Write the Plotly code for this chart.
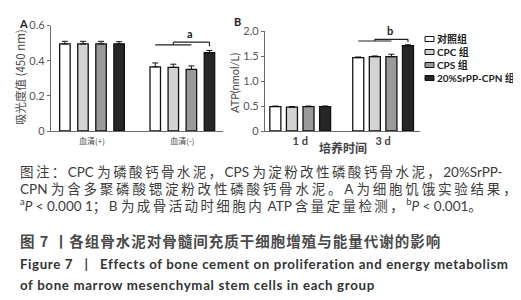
import re
import plotly.graph_objects as go

W, H = 521, 300

# ---------------- data ----------------
groups_A = ["血清(+)", "血清(-)"]
groups_B = ["1 d", "3 d"]
series_names = ["对照组", "CPC 组", "CPS 组", "20%SrPP-CPN 组"]
series_colors = ["#ffffff", "#d3d3d3", "#9a9a9a", "#262626"]

ctrl_A = [0.495, 0.365]
cpc_A = [0.495, 0.362]
cps_A = [0.495, 0.350]
srpp_A = [0.495, 0.445]
ctrl_A_err = [0.015, 0.022]
cpc_A_err = [0.015, 0.018]
cps_A_err = [0.015, 0.020]
srpp_A_err = [0.013, 0.013]

ctrl_B = [0.49, 1.47]
cpc_B = [0.48, 1.49]
cps_B = [0.49, 1.49]
srpp_B = [0.49, 1.71]
ctrl_B_err = [0.01, 0.015]
cpc_B_err = [0.01, 0.015]
cps_B_err = [0.01, 0.05]
srpp_B_err = [0.012, 0.02]

A_vals = [ctrl_A, cpc_A, cps_A, srpp_A]
A_errs = [ctrl_A_err, cpc_A_err, cps_A_err, srpp_A_err]
B_vals = [ctrl_B, cpc_B, cps_B, srpp_B]
B_errs = [ctrl_B_err, cpc_B_err, cps_B_err, srpp_B_err]

yticks_A = [0, 0.2, 0.4, 0.6]
yticktext_A = ["0", "0.2", "0.4", "0.6"]
yticks_B = [0, 0.5, 1.0, 1.5, 2.0]
yticktext_B = ["0", "0.5", "1.0", "1.5", "2.0"]


def px(x):
    return x / W


def py(y):
    return 1 - y / H


LAT = "Lato, 'Noto Sans CJK SC', sans-serif"
CJK = "'Noto Sans CJK SC', Lato, sans-serif"


def spaced(s, ls):
    """wrap runs of CJK characters in a letter-spaced span"""
    return re.sub(r"([\u3000-\u9fff\uff00-\uffef]+)",
                  lambda m: f'<span style="letter-spacing:{ls}px">{m.group(1)}</span>', s)


def note(text, x, y, font, xanchor="center", yanchor="middle", **kw):
    return dict(text=text, xref="paper", yref="paper", x=px(x), y=py(y),
                xanchor=xanchor, yanchor=yanchor, showarrow=False, font=font, **kw)


fig = go.Figure()

slot = 0.2
wA, wB = 0.116, 0.133
for i in range(4):
    fig.add_trace(go.Bar(
        x=groups_A, y=A_vals[i], name=series_names[i], xaxis="x", yaxis="y",
        offset=(i - 1.5) * slot - wA / 2, width=wA,
        marker=dict(color=series_colors[i], line=dict(color="#111", width=1.3)),
        error_y=dict(type="data", array=A_errs[i], arrayminus=[0, 0], symmetric=False,
                     color="#111", thickness=1, width=3),
        showlegend=False,
    ))
    fig.add_trace(go.Bar(
        x=groups_B, y=B_vals[i], name=series_names[i], xaxis="x2", yaxis="y2",
        offset=(i - 1.5) * slot - wB / 2, width=wB,
        marker=dict(color=series_colors[i], line=dict(color="#111", width=1.3)),
        error_y=dict(type="data", array=B_errs[i], arrayminus=[0, 0], symmetric=False,
                     color="#111", thickness=1, width=3),
        showlegend=False,
    ))

axis_common = dict(showline=True, linecolor="#6a6a6a", linewidth=1.2, showgrid=False,
                   zeroline=False, fixedrange=True, automargin=False)

shapes = []
annotations = []


def bracket(xref, yref, lo0, lo1, up0, up1, ylo, yup, ytick):
    s = []
    ln = dict(color="#222", width=1.2)
    s.append(dict(type="line", xref=xref, yref=yref, x0=lo0, x1=lo1, y0=ylo, y1=ylo, line=ln))
    s.append(dict(type="line", xref=xref, yref=yref, x0=up0, x1=up1, y0=yup, y1=yup, line=ln))
    s.append(dict(type="line", xref=xref, yref=yref, x0=up0, x1=up0, y0=ylo, y1=yup, line=ln))
    s.append(dict(type="line", xref=xref, yref=yref, x0=up1, x1=up1, y0=yup, y1=ytick, line=ln))
    return s


shapes += bracket("x", "y", 1 - 0.3, 1 + 0.1, 1 - 0.1, 1 + 0.3, 0.490, 0.505, 0.482)
shapes += bracket("x2", "y2", 1 - 0.3, 1 + 0.1, 1 - 0.1, 1 + 0.3, 1.805, 1.84, 1.785)
annotations.append(dict(text="a", xref="x", yref="y", x=1.08, y=0.505, xanchor="center", yanchor="bottom",
                        showarrow=False, font=dict(family=LAT, size=11, color="#222", weight="bold")))
annotations.append(dict(text="b", xref="x2", yref="y2", x=1.08, y=1.84, xanchor="center", yanchor="bottom",
                        showarrow=False, font=dict(family=LAT, size=11, color="#222", weight="bold")))

# panel letters and axis titles
annotations.append(note("A", 15, 15, dict(family=LAT, size=11, color="#222", weight="bold")))
annotations.append(note("B", 229, 14, dict(family=LAT, size=11, color="#222", weight="bold")))
annotations.append(note("吸光度值 (450 nm)", 12, 69, dict(family=CJK, size=11.5, color="#4a4a4a"), textangle=-90))
annotations.append(note("ATP(nmol/L)", 226, 75, dict(family=LAT, size=11, color="#4a4a4a"), textangle=-90))
annotations.append(note("培养时间", 335, 139, dict(family=CJK, size=12, color="#444", weight="bold")))

# legend (swatches + labels)
leg_y = [31, 44, 57, 70]
for i, nm in enumerate(series_names):
    shapes.append(dict(type="rect", xref="paper", yref="paper", x0=px(417), x1=px(426),
                       y0=py(leg_y[i] + 2.5), y1=py(leg_y[i] - 2.5),
                       fillcolor=series_colors[i], line=dict(color="#111", width=1)))
    annotations.append(note(nm, 427, leg_y[i], dict(family=LAT, size=10, color="#222", weight="bold"),
                            xanchor="left"))

# caption
cap_font = dict(family=LAT, size=13.5, color="#3c3c3c")
cap_lines = [
    ("图注：CPC 为磷酸钙骨水泥，CPS 为淀粉改性磷酸钙骨水泥，20%SrPP-", 164, 2.4),
    ("CPN 为含多聚磷酸锶淀粉改性磷酸钙骨水泥。A 为细胞饥饿实验结果，", 181, 2.8),
    ("<sup>a</sup><i>P</i> < 0.000 1；B 为成骨活动时细胞内 ATP 含量定量检测，<sup>b</sup><i>P</i> < 0.001。", 197, 2.4),
]
for txt, yy, ls in cap_lines:
    annotations.append(note(spaced(txt, ls), 10, yy, cap_font, xanchor="left"))

annotations.append(note('<span style="letter-spacing:1px">图 7 丨各组骨水泥对骨髓间充质干细胞增殖与能量代谢的影响</span>',
                        10, 233, dict(family=CJK, size=14.5, color="#4a4a4a", weight="bold"), xanchor="left"))
annotations.append(note('<span style="letter-spacing:0.6px">Figure 7 &nbsp;&nbsp;|&nbsp;&nbsp; Effects of bone cement on proliferation and energy metabolism</span>',
                        10, 256, dict(family=LAT, size=13.3, color="#333", weight="bold"), xanchor="left"))
annotations.append(note('<span style="letter-spacing:0.65px">of bone marrow mesenchymal stem cells in each group</span>',
                        10, 277, dict(family=LAT, size=13.3, color="#333", weight="bold"), xanchor="left"))

fig.update_layout(
    width=W, height=H, margin=dict(l=0, r=0, t=0, b=0, autoexpand=False),
    paper_bgcolor="white", plot_bgcolor="white",
    barmode="overlay", showlegend=False,
    font=dict(family=LAT, color="#555"),
    xaxis=dict(domain=[px(43), px(215)], anchor="y", type="category",
               range=[-0.454, 1.45], ticks="", tickfont=dict(family=CJK, size=8, color="#444"),
               ticklabelstandoff=2, **axis_common),
    yaxis=dict(domain=[py(123), py(17.5)], anchor="x", range=[0, 0.6],
               tickvals=yticks_A, ticktext=yticktext_A, ticks="outside", ticklen=3,
               tickcolor="#6a6a6a", tickfont=dict(family=LAT, size=11, color="#555"), **axis_common),
    xaxis2=dict(domain=[px(257), px(412)], anchor="y2", type="category",
                range=[-0.425, 1.445], ticks="", tickfont=dict(family=LAT, size=11, color="#444", weight="bold"),
                ticklabelstandoff=0, **axis_common),
    yaxis2=dict(domain=[py(123), py(23.3)], anchor="x2", range=[0, 2],
                tickvals=yticks_B, ticktext=yticktext_B, ticks="outside", ticklen=3,
                tickcolor="#6a6a6a", tickfont=dict(family=LAT, size=11, color="#555"), **axis_common),
    shapes=shapes, annotations=annotations,
)

fig.write_html("out.html")
